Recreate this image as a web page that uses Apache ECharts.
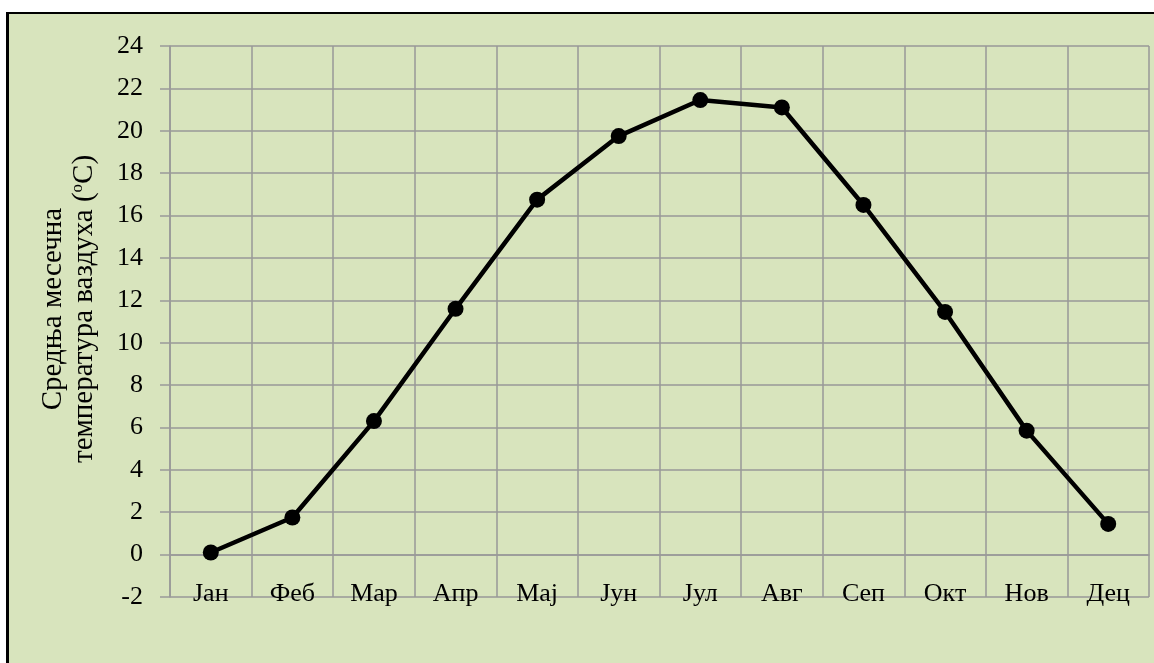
<!DOCTYPE html>
<html>
<head>
<meta charset="utf-8">
<script src="https://cdn.jsdelivr.net/npm/echarts@6/dist/echarts.min.js"></script>
<style>
  html, body { margin: 0; padding: 0; background: #fff; }
  #frame {
    position: absolute; left: 6px; top: 12px; width: 1148px; height: 651px;
    background: #d8e4bd; border-left: 3px solid #000; border-top: 2px solid #000;
  }
  #main { position: absolute; left: 0; top: 0; width: 1154px; height: 663px; }
</style>
</head>
<body>
<div id="frame"></div>
<div id="main"></div>
<script>
// месеци и средње месечне температуре (°C)
var months = ['Јан', 'Феб', 'Мар', 'Апр', 'Мај', 'Јун', 'Јул', 'Авг', 'Сеп', 'Окт', 'Нов', 'Дец'];
var temps = [0.1, 1.75, 6.3, 11.6, 16.75, 19.75, 21.45, 21.1, 16.5, 11.45, 5.85, 1.45];

var myChart = echarts.init(document.getElementById('main'));
var serif = '"Liberation Serif", "Times New Roman", serif';

var option = {
    backgroundColor: 'transparent',
    animation: false,
    textStyle: { fontFamily: serif },
    grid: { left: 170, right: 5, top: 46, bottom: 66 },
    xAxis: {
        type: 'category',
        data: months,
        boundaryGap: true,
        axisLine: { show: true, lineStyle: { color: '#999', width: 1.5 } },
        axisTick: { show: false },
        splitLine: { show: true, interval: 0, lineStyle: { color: '#999', width: 1.5 } },
        axisLabel: { interval: 0, margin: -16, fontSize: 26, color: '#000', fontFamily: serif }
    },
    yAxis: {
        type: 'value',
        min: -2,
        max: 24,
        interval: 2,
        axisLine: { show: true, lineStyle: { color: '#999', width: 1.5 } },
        axisTick: { show: true, length: 10, lineStyle: { color: '#999', width: 1.5 } },
        splitLine: { show: true, lineStyle: { color: '#999', width: 1.5 } },
        axisLabel: { margin: 27, fontSize: 26, color: '#000', fontFamily: serif }
    },
    graphic: [{
        type: 'text',
        x: 69,
        y: 309,
        rotation: Math.PI / 2,
        style: {
            text: '{a|Средња месечна}\n{a|температура ваздуха (}{s|o}{a|C)}',
            textAlign: 'center',
            textVerticalAlign: 'middle',
            rich: {
                a: { fontSize: 29, lineHeight: 31, fontFamily: serif, fill: '#000' },
                s: { fontSize: 17, lineHeight: 31, verticalAlign: 'top', fontFamily: serif, fill: '#000' }
            }
        }
    }],
    series: [{
        type: 'line',
        data: temps,
        symbol: 'circle',
        symbolSize: 16,
        lineStyle: { color: '#000', width: 4.5 },
        itemStyle: { color: '#000' }
    }]
};
myChart.setOption(option);
</script>
</body>
</html>
